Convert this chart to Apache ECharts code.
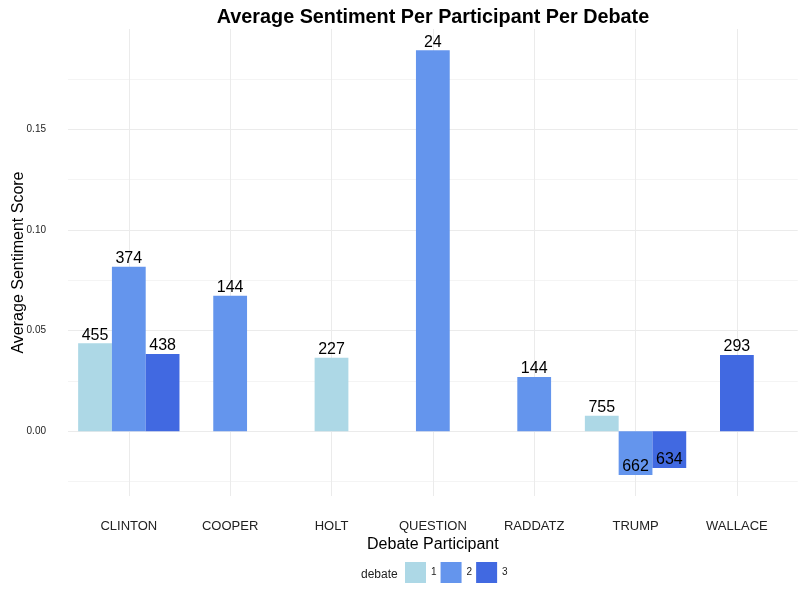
<!DOCTYPE html>
<html><head><meta charset="utf-8">
<script src="https://cdn.jsdelivr.net/npm/echarts@6/dist/echarts.min.js"></script>
<style>html,body{margin:0;padding:0;background:#fff}#c{width:804px;height:604px}</style>
</head><body><div id="c"></div>
<script>
const categories = ['CLINTON','COOPER','HOLT','QUESTION','RADDATZ','TRUMP','WALLACE'];
const debates = ['1','2','3'];
const debate1 = [0.0438, null, 0.0365, null, null, 0.0077, null];
const debate2 = [0.0817, 0.0673, null, 0.1893, 0.0270, -0.0217, null];
const debate3 = [0.0384, null, null, null, null, -0.0182, 0.0379];
const counts1 = [455, null, 227, null, null, 755, null];
const counts2 = [374, 144, null, 24, 144, 662, null];
const counts3 = [438, null, null, null, null, 634, 293];
const yTicks = [0, 0.05, 0.10, 0.15];
const yMinorTicks = [-0.025, 0.025, 0.075, 0.125, 0.175];

const colors = ['#ADD8E6', '#6495ED', '#4169E1'];
const FONT = '"Liberation Sans", Arial, Helvetica, sans-serif';
const valueSets = [debate1, debate2, debate3];
const countSets = [counts1, counts2, counts3];
const catPositions = categories.map((c, i) => i + 1);

function seriesData(d) {
  const out = [];
  categories.forEach((c, i) => {
    if (valueSets[d][i] != null) out.push([i + 1, valueSets[d][i], countSets[d][i]]);
  });
  return out;
}
function renderFor(d) {
  return function (params, api) {
    const ci = api.value(0), v = api.value(1), cnt = api.value(2);
    const present = [0, 1, 2].filter(k => valueSets[k][ci - 1] != null);
    const n = present.length, k = present.indexOf(d);
    const w = 1 / 3;
    const xc = ci + (k - (n - 1) / 2) * w;
    const a = api.coord([xc - w / 2, 0]);
    const b = api.coord([xc + w / 2, v]);
    return {
      type: 'group',
      children: [
        { type: 'rect', shape: { x: a[0], y: Math.min(a[1], b[1]), width: b[0] - a[0], height: Math.abs(b[1] - a[1]) },
          style: { fill: api.visual('color') } },
        { type: 'text', z2: 10, style: { text: String(cnt), x: (a[0] + b[0]) / 2, y: b[1], align: 'center', verticalAlign: 'bottom',
          fontSize: 16, fontFamily: FONT, fill: '#000' } }
      ]
    };
  };
}

const chart = echarts.init(document.getElementById('c'), null, { renderer: 'canvas' });
chart.setOption({
  animation: false,
  backgroundColor: '#fff',
  color: colors,
  textStyle: { fontFamily: FONT },
  title: {
    text: 'Average Sentiment Per Participant Per Debate',
    left: 428, top: 3, textAlign: 'center',
    textStyle: { fontSize: 19.8, fontWeight: 'bold', color: '#000', fontFamily: FONT }
  },
  grid: { left: 68, right: 6.3, top: 29, bottom: 108, containLabel: false, outerBoundsMode: 'none' },
  xAxis: {
    type: 'value', min: 0.4, max: 7.6,
    name: 'Debate Participant', nameLocation: 'middle', nameGap: 41, nameMoveOverlap: false,
    nameTextStyle: { fontSize: 16, color: '#000', fontFamily: FONT },
    axisLine: { show: false },
    axisTick: { show: false, customValues: catPositions },
    axisLabel: { customValues: catPositions, margin: 24, fontSize: 13, color: '#222', fontFamily: FONT,
      formatter: v => categories[Math.round(v) - 1] },
    splitLine: { show: true, lineStyle: { color: '#EBEBEB', width: 1 } }
  },
  yAxis: [{
    type: 'value', min: -0.0321, max: 0.1998,
    name: 'Average Sentiment Score', nameLocation: 'middle', nameGap: 41, nameRotate: 90, nameMoveOverlap: false,
    nameTextStyle: { fontSize: 16, color: '#000', fontFamily: FONT },
    axisLine: { show: false },
    axisTick: { show: false, customValues: yTicks },
    axisLabel: { customValues: yTicks, margin: 22, fontSize: 10, color: '#222', fontFamily: FONT,
      formatter: v => v.toFixed(2) },
    splitLine: { show: true, lineStyle: { color: '#EBEBEB', width: 1 } }
  }, {
    type: 'value', min: -0.0321, max: 0.1998, position: 'left',
    axisLine: { show: false },
    axisTick: { show: false, customValues: yMinorTicks },
    axisLabel: { show: false },
    splitLine: { show: true, lineStyle: { color: '#F4F4F4', width: 1 } }
  }],
  legend: {
    data: debates, left: 405, top: 562, orient: 'horizontal', padding: 0,
    itemWidth: 21, itemHeight: 21, itemGap: 4, icon: 'rect',
    textStyle: { fontSize: 10, color: '#222', fontFamily: FONT }
  },
  graphic: [{
    type: 'text', left: 361, top: 569,
    style: { text: 'debate', fontSize: 12, fill: '#222', fontFamily: FONT }
  }],
  series: debates.map((name, d) => ({
    type: 'custom', name: name,
    itemStyle: { color: colors[d] },
    encode: { x: 0, y: 1 },
    renderItem: renderFor(d),
    data: seriesData(d),
    z: 3
  }))
});
</script></body></html>
